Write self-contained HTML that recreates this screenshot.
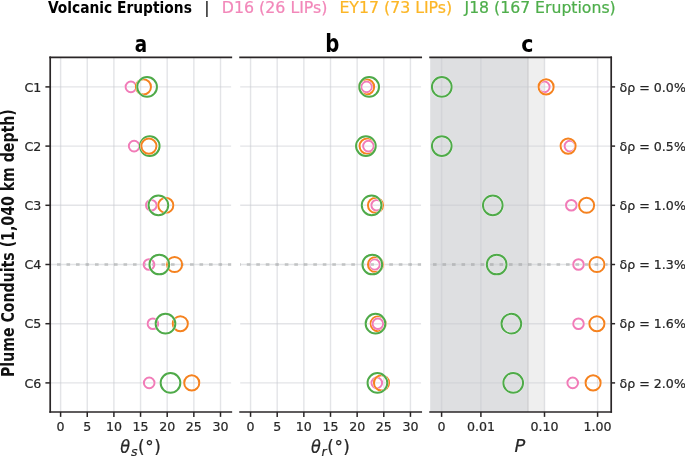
<!DOCTYPE html>
<html lang="en"><head><meta charset="utf-8"><title>Volcanic Eruptions</title>
<style>html,body{margin:0;padding:0;background:#fff}svg{display:block}text{font-family:"DejaVu Sans","Liberation Sans",sans-serif}.bc{font-family:"DejaVu Sans Condensed","DejaVu Sans","Liberation Sans",sans-serif;font-weight:bold;font-stretch:condensed}.tk{font-size:12.6px}.it{font-style:italic}.itc{font-style:italic;font-family:"DejaVu Sans Condensed","DejaVu Sans",sans-serif;font-stretch:condensed}</style></head><body>
<svg width="685" height="456" viewBox="0 0 685 456">
<rect width="685" height="456" fill="#fff"/>
<g fill="#262626" stroke="#262626" stroke-width="0.22">
<defs>
<clipPath id="cp0"><rect x="50.20" y="57.30" width="181.10" height="354.70"/></clipPath>
<clipPath id="cp1"><rect x="240.10" y="57.30" width="181.10" height="354.70"/></clipPath>
<clipPath id="cp2"><rect x="430.10" y="57.30" width="181.10" height="354.70"/></clipPath>
</defs>
<text class="bc" fill="#000" stroke="none" x="47.9" y="12.7" font-size="15.3" textLength="143.97" lengthAdjust="spacingAndGlyphs">Volcanic Eruptions</text>
<text x="207" y="12.7" font-size="15.7" text-anchor="middle" fill="#222">|</text>
<text x="221.8" y="12.7" font-size="15.75" fill="#f287b9" stroke="#f287b9" textLength="105.7" lengthAdjust="spacingAndGlyphs">D16 (26 LIPs)</text>
<text x="339.4" y="12.7" font-size="15.75" fill="#fcb626" stroke="#fcb626" textLength="112.8" lengthAdjust="spacingAndGlyphs">EY17 (73 LIPs)</text>
<text x="464.5" y="12.7" font-size="15.75" fill="#4eae4b" stroke="#4eae4b" textLength="151.2" lengthAdjust="spacingAndGlyphs">J18 (167 Eruptions)</text>
<text class="bc" fill="#000" stroke="none" x="140.90" y="51.5" font-size="22.7" textLength="12.4" lengthAdjust="spacingAndGlyphs" text-anchor="middle">a</text>
<text class="bc" fill="#000" stroke="none" x="332.30" y="51.5" font-size="24.1" textLength="14.1" lengthAdjust="spacingAndGlyphs" text-anchor="middle">b</text>
<text class="bc" fill="#000" stroke="none" x="527.40" y="51.5" font-size="22.8" textLength="12.2" lengthAdjust="spacingAndGlyphs" text-anchor="middle">c</text>
<text class="bc" transform="translate(13.6,243.1) rotate(-90)" font-size="17.6" textLength="267.8" lengthAdjust="spacingAndGlyphs" text-anchor="middle" fill="#111" stroke="none">Plume Conduits (1,040 km depth)</text>
<g clip-path="url(#cp0)">
<line x1="60.60" y1="57.30" x2="60.60" y2="412.00" stroke="rgb(200,203,208)" stroke-opacity="0.51" stroke-width="1.4"/>
<line x1="87.25" y1="57.30" x2="87.25" y2="412.00" stroke="rgb(200,203,208)" stroke-opacity="0.51" stroke-width="1.4"/>
<line x1="113.90" y1="57.30" x2="113.90" y2="412.00" stroke="rgb(200,203,208)" stroke-opacity="0.51" stroke-width="1.4"/>
<line x1="140.55" y1="57.30" x2="140.55" y2="412.00" stroke="rgb(200,203,208)" stroke-opacity="0.51" stroke-width="1.4"/>
<line x1="167.20" y1="57.30" x2="167.20" y2="412.00" stroke="rgb(200,203,208)" stroke-opacity="0.51" stroke-width="1.4"/>
<line x1="193.85" y1="57.30" x2="193.85" y2="412.00" stroke="rgb(200,203,208)" stroke-opacity="0.51" stroke-width="1.4"/>
<line x1="220.50" y1="57.30" x2="220.50" y2="412.00" stroke="rgb(200,203,208)" stroke-opacity="0.51" stroke-width="1.4"/>
<line x1="50.20" y1="86.90" x2="231.30" y2="86.90" stroke="rgb(200,203,208)" stroke-opacity="0.51" stroke-width="1.4"/>
<line x1="50.20" y1="146.10" x2="231.30" y2="146.10" stroke="rgb(200,203,208)" stroke-opacity="0.51" stroke-width="1.4"/>
<line x1="50.20" y1="205.30" x2="231.30" y2="205.30" stroke="rgb(200,203,208)" stroke-opacity="0.51" stroke-width="1.4"/>
<line x1="50.20" y1="264.50" x2="231.30" y2="264.50" stroke="rgb(200,203,208)" stroke-opacity="0.51" stroke-width="1.4"/>
<line x1="50.20" y1="323.70" x2="231.30" y2="323.70" stroke="rgb(200,203,208)" stroke-opacity="0.51" stroke-width="1.4"/>
<line x1="50.20" y1="382.90" x2="231.30" y2="382.90" stroke="rgb(200,203,208)" stroke-opacity="0.51" stroke-width="1.4"/>
<line x1="57.00" y1="264.50" x2="236.30" y2="264.50" stroke="rgb(140,141,143)" stroke-opacity="0.38" stroke-width="3.1" stroke-dasharray="3.6 5.9"/>
<circle cx="130.90" cy="86.90" r="5.30" fill="none" stroke="#fff" stroke-width="2.50"/>
<circle cx="130.90" cy="86.90" r="5.30" fill="none" stroke="#f17cb8" stroke-width="2.00"/>
<circle cx="143.40" cy="86.90" r="7.55" fill="none" stroke="#fff" stroke-width="2.50"/>
<circle cx="143.40" cy="86.90" r="7.55" fill="none" stroke="#f5821f" stroke-width="2.00"/>
<circle cx="147.10" cy="86.90" r="9.85" fill="none" stroke="#fff" stroke-width="2.50"/>
<circle cx="147.10" cy="86.90" r="9.85" fill="none" stroke="#4faa49" stroke-width="2.00"/>
<circle cx="134.10" cy="146.10" r="5.30" fill="none" stroke="#fff" stroke-width="2.50"/>
<circle cx="134.10" cy="146.10" r="5.30" fill="none" stroke="#f17cb8" stroke-width="2.00"/>
<circle cx="149.75" cy="146.10" r="9.85" fill="none" stroke="#fff" stroke-width="2.50"/>
<circle cx="149.75" cy="146.10" r="9.85" fill="none" stroke="#4faa49" stroke-width="2.00"/>
<circle cx="148.90" cy="146.10" r="7.55" fill="none" stroke="#fff" stroke-width="2.50"/>
<circle cx="148.90" cy="146.10" r="7.55" fill="none" stroke="#f5821f" stroke-width="2.00"/>
<circle cx="151.30" cy="205.30" r="5.30" fill="none" stroke="#fff" stroke-width="2.50"/>
<circle cx="151.30" cy="205.30" r="5.30" fill="none" stroke="#f17cb8" stroke-width="2.00"/>
<circle cx="165.80" cy="205.30" r="7.55" fill="none" stroke="#fff" stroke-width="2.50"/>
<circle cx="165.80" cy="205.30" r="7.55" fill="none" stroke="#f5821f" stroke-width="2.00"/>
<circle cx="158.40" cy="205.30" r="9.85" fill="none" stroke="#fff" stroke-width="2.50"/>
<circle cx="158.40" cy="205.30" r="9.85" fill="none" stroke="#4faa49" stroke-width="2.00"/>
<circle cx="149.00" cy="264.50" r="5.30" fill="none" stroke="#fff" stroke-width="2.50"/>
<circle cx="149.00" cy="264.50" r="5.30" fill="none" stroke="#f17cb8" stroke-width="2.00"/>
<circle cx="174.60" cy="264.50" r="7.55" fill="none" stroke="#fff" stroke-width="2.50"/>
<circle cx="174.60" cy="264.50" r="7.55" fill="none" stroke="#f5821f" stroke-width="2.00"/>
<circle cx="159.30" cy="264.50" r="9.85" fill="none" stroke="#fff" stroke-width="2.50"/>
<circle cx="159.30" cy="264.50" r="9.85" fill="none" stroke="#4faa49" stroke-width="2.00"/>
<circle cx="152.90" cy="323.70" r="5.30" fill="none" stroke="#fff" stroke-width="2.50"/>
<circle cx="152.90" cy="323.70" r="5.30" fill="none" stroke="#f17cb8" stroke-width="2.00"/>
<circle cx="180.30" cy="323.70" r="7.55" fill="none" stroke="#fff" stroke-width="2.50"/>
<circle cx="180.30" cy="323.70" r="7.55" fill="none" stroke="#f5821f" stroke-width="2.00"/>
<circle cx="165.50" cy="323.70" r="9.85" fill="none" stroke="#fff" stroke-width="2.50"/>
<circle cx="165.50" cy="323.70" r="9.85" fill="none" stroke="#4faa49" stroke-width="2.00"/>
<circle cx="149.20" cy="382.90" r="5.30" fill="none" stroke="#fff" stroke-width="2.50"/>
<circle cx="149.20" cy="382.90" r="5.30" fill="none" stroke="#f17cb8" stroke-width="2.00"/>
<circle cx="191.75" cy="382.90" r="7.55" fill="none" stroke="#fff" stroke-width="2.50"/>
<circle cx="191.75" cy="382.90" r="7.55" fill="none" stroke="#f5821f" stroke-width="2.00"/>
<circle cx="170.50" cy="382.90" r="9.85" fill="none" stroke="#fff" stroke-width="2.50"/>
<circle cx="170.50" cy="382.90" r="9.85" fill="none" stroke="#4faa49" stroke-width="2.00"/>
</g>
<line x1="50.20" y1="57.30" x2="231.30" y2="57.30" stroke="#2a2627" stroke-width="1.7" stroke-linecap="square"/>
<line x1="50.20" y1="412.00" x2="231.30" y2="412.00" stroke="#2a2627" stroke-width="1.7" stroke-linecap="square"/>
<line x1="50.20" y1="57.30" x2="50.20" y2="412.00" stroke="#2a2627" stroke-width="1.7" stroke-linecap="square"/>
<line x1="60.60" y1="412.00" x2="60.60" y2="416.90" stroke="#2a2627" stroke-width="1.5"/>
<text class="tk" x="60.60" y="430.5" text-anchor="middle">0</text>
<line x1="87.25" y1="412.00" x2="87.25" y2="416.90" stroke="#2a2627" stroke-width="1.5"/>
<text class="tk" x="87.25" y="430.5" text-anchor="middle">5</text>
<line x1="113.90" y1="412.00" x2="113.90" y2="416.90" stroke="#2a2627" stroke-width="1.5"/>
<text class="tk" x="113.90" y="430.5" text-anchor="middle">10</text>
<line x1="140.55" y1="412.00" x2="140.55" y2="416.90" stroke="#2a2627" stroke-width="1.5"/>
<text class="tk" x="140.55" y="430.5" text-anchor="middle">15</text>
<line x1="167.20" y1="412.00" x2="167.20" y2="416.90" stroke="#2a2627" stroke-width="1.5"/>
<text class="tk" x="167.20" y="430.5" text-anchor="middle">20</text>
<line x1="193.85" y1="412.00" x2="193.85" y2="416.90" stroke="#2a2627" stroke-width="1.5"/>
<text class="tk" x="193.85" y="430.5" text-anchor="middle">25</text>
<line x1="220.50" y1="412.00" x2="220.50" y2="416.90" stroke="#2a2627" stroke-width="1.5"/>
<text class="tk" x="220.50" y="430.5" text-anchor="middle">30</text>
<g clip-path="url(#cp1)">
<line x1="250.55" y1="57.30" x2="250.55" y2="412.00" stroke="rgb(200,203,208)" stroke-opacity="0.51" stroke-width="1.4"/>
<line x1="277.20" y1="57.30" x2="277.20" y2="412.00" stroke="rgb(200,203,208)" stroke-opacity="0.51" stroke-width="1.4"/>
<line x1="303.85" y1="57.30" x2="303.85" y2="412.00" stroke="rgb(200,203,208)" stroke-opacity="0.51" stroke-width="1.4"/>
<line x1="330.50" y1="57.30" x2="330.50" y2="412.00" stroke="rgb(200,203,208)" stroke-opacity="0.51" stroke-width="1.4"/>
<line x1="357.15" y1="57.30" x2="357.15" y2="412.00" stroke="rgb(200,203,208)" stroke-opacity="0.51" stroke-width="1.4"/>
<line x1="383.80" y1="57.30" x2="383.80" y2="412.00" stroke="rgb(200,203,208)" stroke-opacity="0.51" stroke-width="1.4"/>
<line x1="410.45" y1="57.30" x2="410.45" y2="412.00" stroke="rgb(200,203,208)" stroke-opacity="0.51" stroke-width="1.4"/>
<line x1="240.10" y1="86.90" x2="421.20" y2="86.90" stroke="rgb(200,203,208)" stroke-opacity="0.51" stroke-width="1.4"/>
<line x1="240.10" y1="146.10" x2="421.20" y2="146.10" stroke="rgb(200,203,208)" stroke-opacity="0.51" stroke-width="1.4"/>
<line x1="240.10" y1="205.30" x2="421.20" y2="205.30" stroke="rgb(200,203,208)" stroke-opacity="0.51" stroke-width="1.4"/>
<line x1="240.10" y1="264.50" x2="421.20" y2="264.50" stroke="rgb(200,203,208)" stroke-opacity="0.51" stroke-width="1.4"/>
<line x1="240.10" y1="323.70" x2="421.20" y2="323.70" stroke="rgb(200,203,208)" stroke-opacity="0.51" stroke-width="1.4"/>
<line x1="240.10" y1="382.90" x2="421.20" y2="382.90" stroke="rgb(200,203,208)" stroke-opacity="0.51" stroke-width="1.4"/>
<line x1="237.30" y1="264.50" x2="426.20" y2="264.50" stroke="rgb(140,141,143)" stroke-opacity="0.38" stroke-width="3.1" stroke-dasharray="3.6 5.9"/>
<circle cx="366.60" cy="86.90" r="5.30" fill="none" stroke="#fff" stroke-width="2.50"/>
<circle cx="366.60" cy="86.90" r="5.30" fill="none" stroke="#f17cb8" stroke-width="2.00"/>
<circle cx="366.60" cy="86.90" r="7.55" fill="none" stroke="#fff" stroke-width="2.50"/>
<circle cx="366.60" cy="86.90" r="7.55" fill="none" stroke="#f5821f" stroke-width="2.00"/>
<circle cx="369.15" cy="86.90" r="9.85" fill="none" stroke="#fff" stroke-width="2.50"/>
<circle cx="369.15" cy="86.90" r="9.85" fill="none" stroke="#4faa49" stroke-width="2.00"/>
<circle cx="367.10" cy="146.10" r="7.55" fill="none" stroke="#fff" stroke-width="2.50"/>
<circle cx="367.10" cy="146.10" r="7.55" fill="none" stroke="#f5821f" stroke-width="2.00"/>
<circle cx="368.40" cy="146.10" r="5.30" fill="none" stroke="#fff" stroke-width="2.50"/>
<circle cx="368.40" cy="146.10" r="5.30" fill="none" stroke="#f17cb8" stroke-width="2.00"/>
<circle cx="365.90" cy="146.10" r="9.85" fill="none" stroke="#fff" stroke-width="2.50"/>
<circle cx="365.90" cy="146.10" r="9.85" fill="none" stroke="#4faa49" stroke-width="2.00"/>
<circle cx="376.70" cy="205.30" r="5.30" fill="none" stroke="#fff" stroke-width="2.50"/>
<circle cx="376.70" cy="205.30" r="5.30" fill="none" stroke="#f17cb8" stroke-width="2.00"/>
<circle cx="375.50" cy="205.30" r="7.55" fill="none" stroke="#fff" stroke-width="2.50"/>
<circle cx="375.50" cy="205.30" r="7.55" fill="none" stroke="#f5821f" stroke-width="2.00"/>
<circle cx="371.60" cy="205.30" r="9.85" fill="none" stroke="#fff" stroke-width="2.50"/>
<circle cx="371.60" cy="205.30" r="9.85" fill="none" stroke="#4faa49" stroke-width="2.00"/>
<circle cx="374.50" cy="264.50" r="5.30" fill="none" stroke="#fff" stroke-width="2.50"/>
<circle cx="374.50" cy="264.50" r="5.30" fill="none" stroke="#f17cb8" stroke-width="2.00"/>
<circle cx="375.50" cy="264.50" r="7.55" fill="none" stroke="#fff" stroke-width="2.50"/>
<circle cx="375.50" cy="264.50" r="7.55" fill="none" stroke="#f5821f" stroke-width="2.00"/>
<circle cx="372.30" cy="264.50" r="9.85" fill="none" stroke="#fff" stroke-width="2.50"/>
<circle cx="372.30" cy="264.50" r="9.85" fill="none" stroke="#4faa49" stroke-width="2.00"/>
<circle cx="378.20" cy="323.70" r="7.55" fill="none" stroke="#fff" stroke-width="2.50"/>
<circle cx="378.20" cy="323.70" r="7.55" fill="none" stroke="#f5821f" stroke-width="2.00"/>
<circle cx="377.90" cy="323.70" r="5.30" fill="none" stroke="#fff" stroke-width="2.50"/>
<circle cx="377.90" cy="323.70" r="5.30" fill="none" stroke="#f17cb8" stroke-width="2.00"/>
<circle cx="375.50" cy="323.70" r="9.85" fill="none" stroke="#fff" stroke-width="2.50"/>
<circle cx="375.50" cy="323.70" r="9.85" fill="none" stroke="#4faa49" stroke-width="2.00"/>
<circle cx="376.80" cy="382.90" r="5.30" fill="none" stroke="#fff" stroke-width="2.50"/>
<circle cx="376.80" cy="382.90" r="5.30" fill="none" stroke="#f17cb8" stroke-width="2.00"/>
<circle cx="381.50" cy="382.90" r="7.55" fill="none" stroke="#fff" stroke-width="2.50"/>
<circle cx="381.50" cy="382.90" r="7.55" fill="none" stroke="#f5821f" stroke-width="2.00"/>
<circle cx="377.40" cy="382.90" r="9.85" fill="none" stroke="#fff" stroke-width="2.50"/>
<circle cx="377.40" cy="382.90" r="9.85" fill="none" stroke="#4faa49" stroke-width="2.00"/>
</g>
<line x1="240.10" y1="57.30" x2="421.20" y2="57.30" stroke="#2a2627" stroke-width="1.7" stroke-linecap="square"/>
<line x1="240.10" y1="412.00" x2="421.20" y2="412.00" stroke="#2a2627" stroke-width="1.7" stroke-linecap="square"/>
<line x1="250.55" y1="412.00" x2="250.55" y2="416.90" stroke="#2a2627" stroke-width="1.5"/>
<text class="tk" x="250.55" y="430.5" text-anchor="middle">0</text>
<line x1="277.20" y1="412.00" x2="277.20" y2="416.90" stroke="#2a2627" stroke-width="1.5"/>
<text class="tk" x="277.20" y="430.5" text-anchor="middle">5</text>
<line x1="303.85" y1="412.00" x2="303.85" y2="416.90" stroke="#2a2627" stroke-width="1.5"/>
<text class="tk" x="303.85" y="430.5" text-anchor="middle">10</text>
<line x1="330.50" y1="412.00" x2="330.50" y2="416.90" stroke="#2a2627" stroke-width="1.5"/>
<text class="tk" x="330.50" y="430.5" text-anchor="middle">15</text>
<line x1="357.15" y1="412.00" x2="357.15" y2="416.90" stroke="#2a2627" stroke-width="1.5"/>
<text class="tk" x="357.15" y="430.5" text-anchor="middle">20</text>
<line x1="383.80" y1="412.00" x2="383.80" y2="416.90" stroke="#2a2627" stroke-width="1.5"/>
<text class="tk" x="383.80" y="430.5" text-anchor="middle">25</text>
<line x1="410.45" y1="412.00" x2="410.45" y2="416.90" stroke="#2a2627" stroke-width="1.5"/>
<text class="tk" x="410.45" y="430.5" text-anchor="middle">30</text>
<g clip-path="url(#cp2)">
<rect x="430.10" y="57.30" width="98.60" height="354.70" fill="rgb(120,124,132)" fill-opacity="0.245" stroke="none"/>
<rect x="528.7" y="57.30" width="15.90" height="354.70" fill="rgb(128,128,128)" fill-opacity="0.13" stroke="none"/>
<line x1="527.8" y1="57.30" x2="527.8" y2="412.00" stroke="rgb(128,128,128)" stroke-opacity="0.12" stroke-width="1.6"/>
<line x1="441.60" y1="57.30" x2="441.60" y2="412.00" stroke="rgb(200,203,208)" stroke-opacity="0.51" stroke-width="1.4"/>
<line x1="480.90" y1="57.30" x2="480.90" y2="412.00" stroke="rgb(200,203,208)" stroke-opacity="0.51" stroke-width="1.4"/>
<line x1="544.50" y1="57.30" x2="544.50" y2="412.00" stroke="rgb(200,203,208)" stroke-opacity="0.51" stroke-width="1.4"/>
<line x1="597.60" y1="57.30" x2="597.60" y2="412.00" stroke="rgb(200,203,208)" stroke-opacity="0.51" stroke-width="1.4"/>
<line x1="430.10" y1="86.90" x2="611.20" y2="86.90" stroke="rgb(200,203,208)" stroke-opacity="0.51" stroke-width="1.4"/>
<line x1="430.10" y1="146.10" x2="611.20" y2="146.10" stroke="rgb(200,203,208)" stroke-opacity="0.51" stroke-width="1.4"/>
<line x1="430.10" y1="205.30" x2="611.20" y2="205.30" stroke="rgb(200,203,208)" stroke-opacity="0.51" stroke-width="1.4"/>
<line x1="430.10" y1="264.50" x2="611.20" y2="264.50" stroke="rgb(200,203,208)" stroke-opacity="0.51" stroke-width="1.4"/>
<line x1="430.10" y1="323.70" x2="611.20" y2="323.70" stroke="rgb(200,203,208)" stroke-opacity="0.51" stroke-width="1.4"/>
<line x1="430.10" y1="382.90" x2="611.20" y2="382.90" stroke="rgb(200,203,208)" stroke-opacity="0.51" stroke-width="1.4"/>
<line x1="433.00" y1="264.50" x2="616.20" y2="264.50" stroke="rgb(140,141,143)" stroke-opacity="0.38" stroke-width="3.1" stroke-dasharray="3.6 5.9"/>
<circle cx="544.30" cy="86.90" r="5.30" fill="none" stroke="#fff" stroke-width="2.50"/>
<circle cx="544.30" cy="86.90" r="5.30" fill="none" stroke="#f17cb8" stroke-width="2.00"/>
<circle cx="546.10" cy="86.90" r="7.55" fill="none" stroke="#fff" stroke-width="2.50"/>
<circle cx="546.10" cy="86.90" r="7.55" fill="none" stroke="#f5821f" stroke-width="2.00"/>
<circle cx="441.80" cy="86.90" r="9.85" fill="none" stroke="#fff" stroke-width="2.50"/>
<circle cx="441.80" cy="86.90" r="9.85" fill="none" stroke="#4faa49" stroke-width="2.00"/>
<circle cx="569.90" cy="146.10" r="5.30" fill="none" stroke="#fff" stroke-width="2.50"/>
<circle cx="569.90" cy="146.10" r="5.30" fill="none" stroke="#f17cb8" stroke-width="2.00"/>
<circle cx="568.10" cy="146.10" r="7.55" fill="none" stroke="#fff" stroke-width="2.50"/>
<circle cx="568.10" cy="146.10" r="7.55" fill="none" stroke="#f5821f" stroke-width="2.00"/>
<circle cx="441.80" cy="146.10" r="9.85" fill="none" stroke="#fff" stroke-width="2.50"/>
<circle cx="441.80" cy="146.10" r="9.85" fill="none" stroke="#4faa49" stroke-width="2.00"/>
<circle cx="571.30" cy="205.30" r="5.30" fill="none" stroke="#fff" stroke-width="2.50"/>
<circle cx="571.30" cy="205.30" r="5.30" fill="none" stroke="#f17cb8" stroke-width="2.00"/>
<circle cx="586.60" cy="205.30" r="7.55" fill="none" stroke="#fff" stroke-width="2.50"/>
<circle cx="586.60" cy="205.30" r="7.55" fill="none" stroke="#f5821f" stroke-width="2.00"/>
<circle cx="492.80" cy="205.30" r="9.85" fill="none" stroke="#fff" stroke-width="2.50"/>
<circle cx="492.80" cy="205.30" r="9.85" fill="none" stroke="#4faa49" stroke-width="2.00"/>
<circle cx="578.50" cy="264.50" r="5.30" fill="none" stroke="#fff" stroke-width="2.50"/>
<circle cx="578.50" cy="264.50" r="5.30" fill="none" stroke="#f17cb8" stroke-width="2.00"/>
<circle cx="596.90" cy="264.50" r="7.55" fill="none" stroke="#fff" stroke-width="2.50"/>
<circle cx="596.90" cy="264.50" r="7.55" fill="none" stroke="#f5821f" stroke-width="2.00"/>
<circle cx="496.70" cy="264.50" r="9.85" fill="none" stroke="#fff" stroke-width="2.50"/>
<circle cx="496.70" cy="264.50" r="9.85" fill="none" stroke="#4faa49" stroke-width="2.00"/>
<circle cx="578.50" cy="323.70" r="5.30" fill="none" stroke="#fff" stroke-width="2.50"/>
<circle cx="578.50" cy="323.70" r="5.30" fill="none" stroke="#f17cb8" stroke-width="2.00"/>
<circle cx="596.90" cy="323.70" r="7.55" fill="none" stroke="#fff" stroke-width="2.50"/>
<circle cx="596.90" cy="323.70" r="7.55" fill="none" stroke="#f5821f" stroke-width="2.00"/>
<circle cx="511.35" cy="323.70" r="9.85" fill="none" stroke="#fff" stroke-width="2.50"/>
<circle cx="511.35" cy="323.70" r="9.85" fill="none" stroke="#4faa49" stroke-width="2.00"/>
<circle cx="572.70" cy="382.90" r="5.30" fill="none" stroke="#fff" stroke-width="2.50"/>
<circle cx="572.70" cy="382.90" r="5.30" fill="none" stroke="#f17cb8" stroke-width="2.00"/>
<circle cx="593.10" cy="382.90" r="7.55" fill="none" stroke="#fff" stroke-width="2.50"/>
<circle cx="593.10" cy="382.90" r="7.55" fill="none" stroke="#f5821f" stroke-width="2.00"/>
<circle cx="513.20" cy="382.90" r="9.85" fill="none" stroke="#fff" stroke-width="2.50"/>
<circle cx="513.20" cy="382.90" r="9.85" fill="none" stroke="#4faa49" stroke-width="2.00"/>
</g>
<line x1="430.10" y1="57.30" x2="611.20" y2="57.30" stroke="#2a2627" stroke-width="1.7" stroke-linecap="square"/>
<line x1="430.10" y1="412.00" x2="611.20" y2="412.00" stroke="#2a2627" stroke-width="1.7" stroke-linecap="square"/>
<line x1="611.20" y1="57.30" x2="611.20" y2="412.00" stroke="#2a2627" stroke-width="1.7" stroke-linecap="square"/>
<line x1="441.60" y1="412.00" x2="441.60" y2="416.90" stroke="#2a2627" stroke-width="1.5"/>
<text class="tk" x="441.60" y="430.5" text-anchor="middle">0</text>
<line x1="480.90" y1="412.00" x2="480.90" y2="416.90" stroke="#2a2627" stroke-width="1.5"/>
<text class="tk" x="480.90" y="430.5" text-anchor="middle">0.01</text>
<line x1="544.50" y1="412.00" x2="544.50" y2="416.90" stroke="#2a2627" stroke-width="1.5"/>
<text class="tk" x="544.50" y="430.5" text-anchor="middle">0.10</text>
<line x1="597.60" y1="412.00" x2="597.60" y2="416.90" stroke="#2a2627" stroke-width="1.5"/>
<text class="tk" x="597.60" y="430.5" text-anchor="middle">1.00</text>
<line x1="45.4" y1="86.90" x2="50.2" y2="86.90" stroke="#2a2627" stroke-width="1.5"/>
<text class="tk" x="41.2" y="91.50" text-anchor="end">C1</text>
<line x1="45.4" y1="146.10" x2="50.2" y2="146.10" stroke="#2a2627" stroke-width="1.5"/>
<text class="tk" x="41.2" y="150.70" text-anchor="end">C2</text>
<line x1="45.4" y1="205.30" x2="50.2" y2="205.30" stroke="#2a2627" stroke-width="1.5"/>
<text class="tk" x="41.2" y="209.90" text-anchor="end">C3</text>
<line x1="45.4" y1="264.50" x2="50.2" y2="264.50" stroke="#2a2627" stroke-width="1.5"/>
<text class="tk" x="41.2" y="269.10" text-anchor="end">C4</text>
<line x1="45.4" y1="323.70" x2="50.2" y2="323.70" stroke="#2a2627" stroke-width="1.5"/>
<text class="tk" x="41.2" y="328.30" text-anchor="end">C5</text>
<line x1="45.4" y1="382.90" x2="50.2" y2="382.90" stroke="#2a2627" stroke-width="1.5"/>
<text class="tk" x="41.2" y="387.50" text-anchor="end">C6</text>
<line x1="611.2" y1="86.90" x2="615.1" y2="86.90" stroke="#2a2627" stroke-width="1.5"/>
<text class="tk" x="619.6" y="91.50">δρ = 0.0%</text>
<line x1="611.2" y1="146.10" x2="615.1" y2="146.10" stroke="#2a2627" stroke-width="1.5"/>
<text class="tk" x="619.6" y="150.70">δρ = 0.5%</text>
<line x1="611.2" y1="205.30" x2="615.1" y2="205.30" stroke="#2a2627" stroke-width="1.5"/>
<text class="tk" x="619.6" y="209.90">δρ = 1.0%</text>
<line x1="611.2" y1="264.50" x2="615.1" y2="264.50" stroke="#2a2627" stroke-width="1.5"/>
<text class="tk" x="619.6" y="269.10">δρ = 1.3%</text>
<line x1="611.2" y1="323.70" x2="615.1" y2="323.70" stroke="#2a2627" stroke-width="1.5"/>
<text class="tk" x="619.6" y="328.30">δρ = 1.6%</text>
<line x1="611.2" y1="382.90" x2="615.1" y2="382.90" stroke="#2a2627" stroke-width="1.5"/>
<text class="tk" x="619.6" y="387.50">δρ = 2.0%</text>
<text y="452.5" font-size="16.8"><tspan class="itc" x="120.30" font-size="17.85">θ</tspan><tspan class="it" x="130.90" dy="3.8" font-size="12.5">s</tspan><tspan x="138.00" dy="-3.8">(</tspan><tspan x="145.20">°</tspan><tspan x="154.30">)</tspan></text>
<text y="452.5" font-size="16.8"><tspan class="itc" x="310.95" font-size="17.85">θ</tspan><tspan class="it" x="321.55" dy="3.8" font-size="12.5">r</tspan><tspan x="327.25" dy="-3.8">(</tspan><tspan x="334.40">°</tspan><tspan x="343.35">)</tspan></text>
<text class="it" x="520.00" y="452.0" font-size="17.85" text-anchor="middle">P</text>
</g></svg></body></html>
